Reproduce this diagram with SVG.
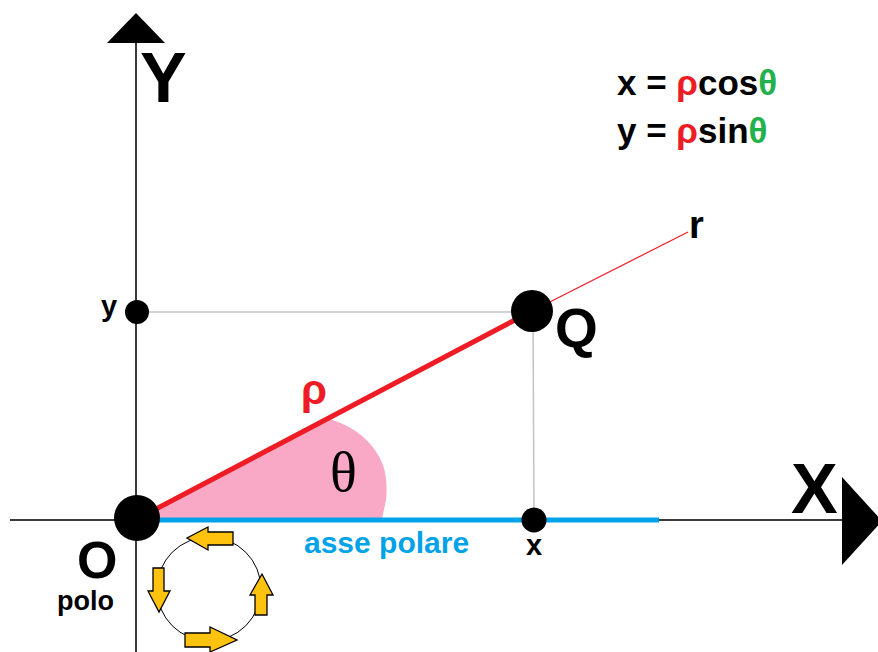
<svg xmlns="http://www.w3.org/2000/svg" width="878" height="652" viewBox="0 0 878 652">
<style>
.axis{stroke:#3a3a3a;stroke-width:2;fill:none}
.guide{stroke:#c3c3c3;stroke-width:1.5;fill:none}
.dot{fill:#000}
.lbl{font-family:"Liberation Sans",Arial,sans-serif;font-weight:bold;fill:#000}
.red{fill:#ee1c24}
.green{fill:#22b14c}
.yarrow{fill:#ffc20e;stroke:#000;stroke-width:1.3;stroke-linejoin:miter}
</style>
<rect width="878" height="652" fill="#fff"/>
<g id="theta-area">
<path d="M137,519 L330,419 Q370,432 383,465 Q388,480 386,500 L382,519 Z" fill="#f9a9c5"/>
<text x="330" y="491" font-family="Liberation Serif,Times New Roman,serif" font-size="56" fill="#000">θ</text>
</g>
<g id="connectors">
<line class="axis" x1="10" y1="520" x2="843" y2="520"/>
<line class="axis" x1="136" y1="42" x2="136" y2="652"/>
<polygon points="107,43 136,13 165,43" fill="#000"/>
<polygon points="842,477 882,521 842,565" fill="#000"/>
<line class="guide" x1="137" y1="312" x2="532" y2="312"/>
<line class="guide" x1="533" y1="311" x2="534" y2="520"/>
<line x1="145" y1="520" x2="659" y2="520" stroke="#00a2e8" stroke-width="5"/>
<line x1="137" y1="519" x2="532" y2="311" stroke="#ee1c24" stroke-width="5"/>
<line x1="532" y1="311" x2="688" y2="232" stroke="#ee1c24" stroke-width="1.2"/>
</g>
<g id="rotation">
<circle cx="209" cy="589" r="52" fill="none" stroke="#000" stroke-width="1"/>
<polygon class="yarrow" points="233,532 208,532 208,527 187,538 208,550 208,545 233,545"/>
<polygon class="yarrow" points="153,568 164,568 164,591 170,591 159,612 148,591 153,591"/>
<polygon class="yarrow" points="185,633 210,633 210,627 237,640 210,652 210,647 185,647"/>
<polygon class="yarrow" points="255,615 255,595 250,595 262,574 273,595 267,595 267,615"/>
</g>
<g id="node-O">
<circle class="dot" cx="137" cy="518" r="23"/>
<text class="lbl" x="77" y="578" font-size="52">O</text>
<text class="lbl" x="57" y="610" font-size="27">polo</text>
</g>
<g id="node-Q">
<circle class="dot" cx="532" cy="311" r="21"/>
<text class="lbl" x="555" y="347" font-size="55">Q</text>
</g>
<g id="node-y">
<circle class="dot" cx="137" cy="312" r="12"/>
<text class="lbl" x="101" y="316" font-size="29">y</text>
</g>
<g id="node-x">
<circle class="dot" cx="534" cy="520" r="12.5"/>
<text class="lbl" x="526" y="555" font-size="29">x</text>
</g>
<g id="labels">
<text class="lbl" x="140" y="102" font-size="70">Y</text>
<text class="lbl" x="791" y="513" font-size="70">X</text>
<text class="lbl" x="689" y="238" font-size="38">r</text>
<text x="301" y="404" font-family="Liberation Sans,Arial,sans-serif" font-weight="bold" font-size="42" fill="#ee1c24">ρ</text>
<text class="lbl" x="304" y="553" font-size="30" style="fill:#00a2e8">asse polare</text>
<text class="lbl" x="617" y="95" font-size="35">x = <tspan class="red">ρ</tspan>cos<tspan class="green">θ</tspan></text>
<text class="lbl" x="617" y="143" font-size="35">y = <tspan class="red">ρ</tspan>sin<tspan class="green">θ</tspan></text>
</g>
</svg>
